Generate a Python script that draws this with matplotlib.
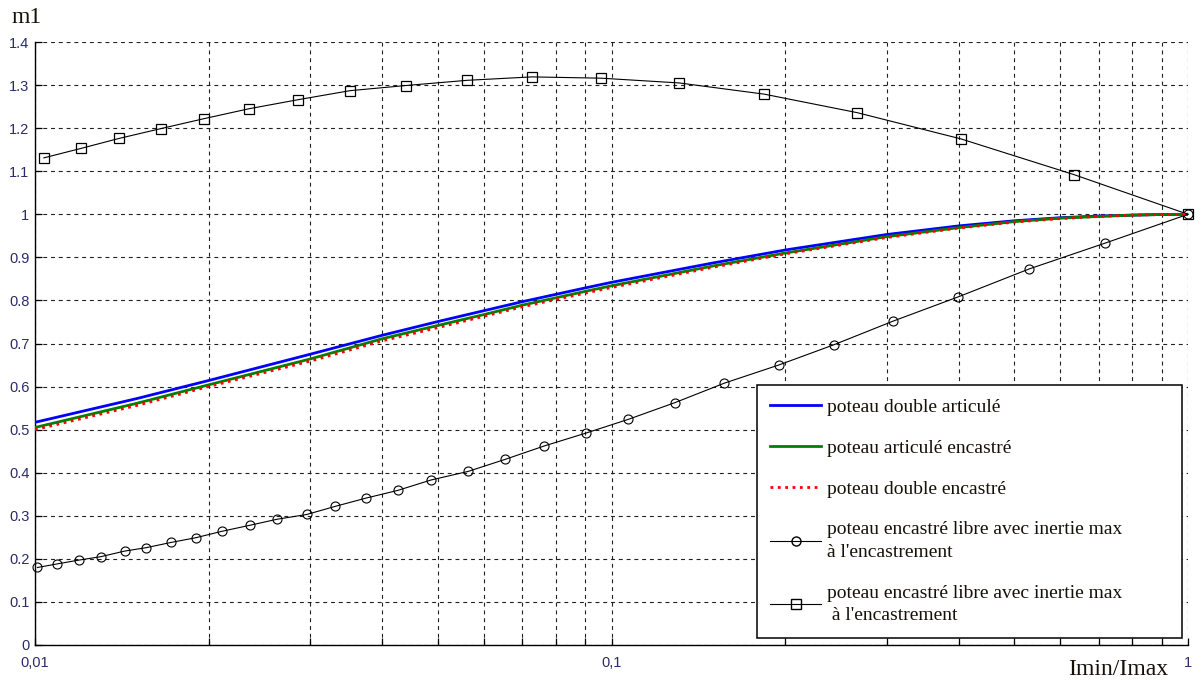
import matplotlib
matplotlib.use("Agg")
import matplotlib.pyplot as plt
from matplotlib.lines import Line2D
from matplotlib.ticker import FixedLocator, FixedFormatter, NullFormatter
from matplotlib.font_manager import FontProperties

# Imin/Imax ratios at which the three continuous curves are tabulated
ratio = [0.01, 0.015, 0.02, 0.03, 0.04, 0.05, 0.06, 0.07, 0.08, 0.09, 0.1,
         0.15, 0.2, 0.3, 0.4, 0.5, 0.6, 0.7, 0.8, 0.9, 1.0]
m_double_articule = [0.517, 0.572, 0.614, 0.675, 0.719, 0.751, 0.776, 0.797, 0.814, 0.829, 0.842,
                     0.887, 0.917, 0.953, 0.973, 0.985, 0.992, 0.996, 0.998, 0.9995, 1.0]
m_articule_encastre = [0.505, 0.561, 0.604, 0.664, 0.711, 0.742, 0.767, 0.789, 0.806, 0.821, 0.834,
                       0.880, 0.910, 0.948, 0.969, 0.983, 0.991, 0.995, 0.998, 0.9995, 1.0]
m_double_encastre = [0.500, 0.556, 0.600, 0.659, 0.706, 0.737, 0.763, 0.785, 0.802, 0.817, 0.830,
                     0.877, 0.908, 0.946, 0.968, 0.982, 0.990, 0.995, 0.998, 0.9995, 1.0]

# cantilever column, circle-marked series
ratio_circles = [0.0101, 0.0109, 0.0119, 0.0130, 0.0143, 0.0156, 0.0172, 0.0190, 0.0211, 0.0236,
                 0.0263, 0.0296, 0.0332, 0.0375, 0.0426, 0.0486, 0.0564, 0.0654, 0.0764, 0.0903,
                 0.107, 0.129, 0.157, 0.195, 0.243, 0.308, 0.399, 0.530, 0.718, 1.0]
m_circles = [0.180, 0.188, 0.197, 0.205, 0.218, 0.226, 0.238, 0.249, 0.264, 0.278,
             0.292, 0.303, 0.322, 0.341, 0.359, 0.383, 0.403, 0.431, 0.462, 0.492,
             0.524, 0.563, 0.608, 0.650, 0.697, 0.752, 0.808, 0.873, 0.933, 1.0]

# cantilever column, square-marked series
ratio_squares = [0.01036, 0.01202, 0.01398, 0.01654, 0.01964, 0.02350, 0.02859, 0.03519, 0.04401,
                 0.05614, 0.07279, 0.09590, 0.1309, 0.1839, 0.2667, 0.4038, 0.6344, 1.0]
m_squares = [1.131, 1.153, 1.176, 1.199, 1.222, 1.245, 1.266, 1.287, 1.299,
             1.311, 1.319, 1.316, 1.305, 1.279, 1.236, 1.175, 1.092, 1.0]

labels = [
    "poteau double articulé",
    "poteau articulé encastré",
    "poteau double encastré",
    "poteau encastré libre avec inertie max\nà l'encastrement",
    "poteau encastré libre avec inertie max\n à l'encastrement",
]

y_ticks = [0, 0.1, 0.2, 0.3, 0.4, 0.5, 0.6, 0.7, 0.8, 0.9, 1.0, 1.1, 1.2, 1.3, 1.4]
y_tick_labels = ["0", "0.1", "0.2", "0.3", "0.4", "0.5", "0.6", "0.7", "0.8", "0.9",
                 "1", "1.1", "1.2", "1.3", "1.4"]
x_ticks = [0.01, 0.1, 1.0]
x_tick_labels = ["0,01", "0,1", "1"]

tick_color = "#2b2b6b"
text_color = "#151008"
serif = "Liberation Serif"

fig = plt.figure(figsize=(12, 6.82), dpi=100)
ax = fig.add_axes([35 / 1200, 37 / 682, 1153 / 1200, 603 / 682])

ax.plot(ratio, m_double_articule, color="#0000ff", lw=2.0, zorder=3)
ax.plot(ratio, m_articule_encastre, color="#008000", lw=2.0, zorder=3)
ax.plot(ratio, m_double_encastre, color="#ff0000", lw=2.0, ls=":", zorder=4)
ax.plot(ratio_circles, m_circles, color="black", lw=0.8, marker="o", ms=6.5,
        mfc="none", mec="black", mew=0.8, zorder=3, clip_on=False)
ax.plot(ratio_squares, m_squares, color="black", lw=0.8, marker="s", ms=7,
        mfc="none", mec="black", mew=0.9, zorder=3, clip_on=False)

ax.set_xscale("log")
ax.set_xlim(0.01, 1.0)
ax.set_ylim(0, 1.4)

ax.xaxis.set_major_locator(FixedLocator(x_ticks))
ax.xaxis.set_major_formatter(FixedFormatter(x_tick_labels))
ax.xaxis.set_minor_locator(FixedLocator([k * d for d in (0.01, 0.1) for k in range(2, 10)]))
ax.xaxis.set_minor_formatter(NullFormatter())
ax.yaxis.set_major_locator(FixedLocator(y_ticks))
ax.yaxis.set_major_formatter(FixedFormatter(y_tick_labels))

ax.tick_params(axis="both", which="both", direction="in", length=5, width=0.9,
               color="black", labelcolor=tick_color, labelsize=10.5)
ax.tick_params(axis="x", which="major", pad=8)
ax.tick_params(axis="y", which="major", pad=4)
for lab in ax.get_xticklabels() + ax.get_yticklabels():
    lab.set_fontfamily("Liberation Sans")

ax.grid(True, which="both", axis="x", color="#202020", lw=0.8, ls=(0, (3.5, 3.5)))
ax.grid(True, which="major", axis="y", color="#202020", lw=0.8, ls=(0, (3.5, 3.5)))
ax.set_axisbelow(True)

for side in ("top", "right"):
    ax.spines[side].set_visible(False)
for side in ("left", "bottom"):
    ax.spines[side].set_linewidth(1.0)
    ax.spines[side].set_color("black")

handles = [
    Line2D([], [], color="#0000ff", lw=2.0),
    Line2D([], [], color="#008000", lw=2.0),
    Line2D([], [], color="#ff0000", lw=2.0, ls=":"),
    Line2D([], [], color="black", lw=0.8, marker="o", ms=6.5, mfc="none", mec="black"),
    Line2D([], [], color="black", lw=0.8, marker="s", ms=7, mfc="none", mec="black"),
]
leg = ax.legend(handles, labels, loc="lower left",
                bbox_to_anchor=(0.626, 0.0116, 0.369, 0.42), mode="expand",
                prop=FontProperties(family=serif, size=14),
                frameon=True, fancybox=False, framealpha=1, edgecolor="black",
                handlelength=2.6, handletextpad=0.3, labelspacing=1.2,
                borderpad=0.7, borderaxespad=0)
leg.get_frame().set_linewidth(1.1)
for t in leg.get_texts():
    t.set_color(text_color)
    t.set_linespacing(1.45)

fig.text(12 / 1200, 1 - 23 / 682, "m1", family=serif, fontsize=17,
         color=text_color, ha="left", va="baseline")
fig.text(1068 / 1200, 1 - 675 / 682, "Imin/Imax", family=serif, fontsize=17,
         color=text_color, ha="left", va="baseline")

fig.savefig("out.png", dpi=100)
